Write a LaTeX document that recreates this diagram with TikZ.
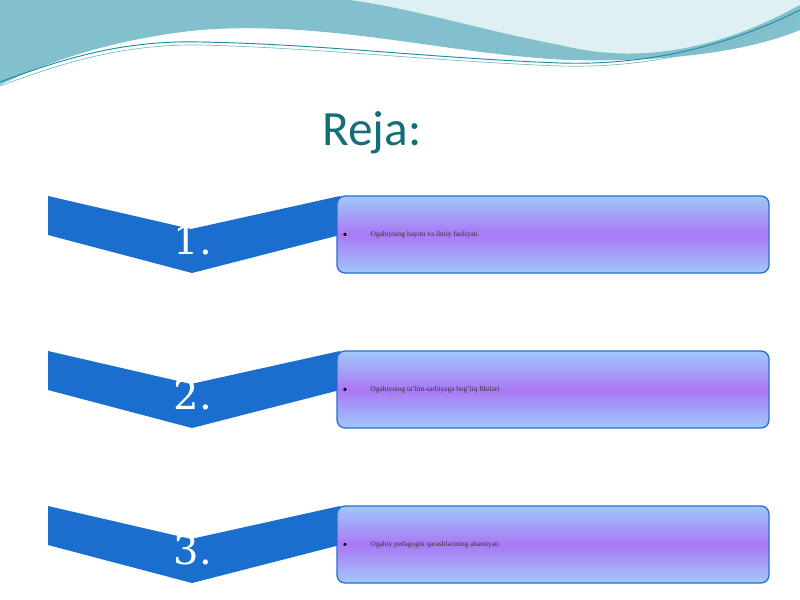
\documentclass[tikz,border=0pt]{standalone}
\usepackage{fontspec}
\setmainfont{Liberation Serif}
\newfontfamily\titlefont{Carlito}
\newfontfamily\numfont{DejaVu Serif}
\definecolor{chev}{RGB}{26,110,205}
\definecolor{boxedge}{RGB}{40,110,210}
\definecolor{lblue}{RGB}{160,200,250}
\definecolor{purp}{RGB}{170,120,245}
\definecolor{teal1}{RGB}{130,192,205}
\definecolor{teal2}{RGB}{222,240,242}
\definecolor{line1}{RGB}{30,140,160}
\definecolor{titlec}{RGB}{20,110,120}
\begin{document}
\begin{tikzpicture}[x=0.75pt,y=-0.75pt,
 chevron/.style={fill=chev,draw=none},
 item/.style={rounded corners=6pt,draw=boxedge,line width=1pt,top color=lblue,bottom color=lblue,middle color=purp,shading angle=0},
 num/.style={text=white,font=\numfont\fontsize{30}{30}\selectfont},
 itxt/.style={font=\fontsize{5.5}{6}\selectfont,text=black!80,anchor=west}]
\useasboundingbox (0,0) rectangle (800,600);
\fill[white] (0,0) rectangle (800,600);
% header
\fill[teal2] (350,0) -- (800,0) -- (800,20) .. controls (700,60) and (620,60) .. (560,45) .. controls (480,30) and (420,10) .. (350,0) -- cycle;
\fill[teal1] (0,0) -- (350,0) .. controls (420,10) and (480,30) .. (560,45) .. controls (620,60) and (700,60) .. (800,5) -- (800,30) .. controls (740,55) and (650,62) .. (570,60) .. controls (450,55) and (330,20) .. (200,30) .. controls (100,40) and (30,70) .. (0,85) -- cycle;
\draw[line1,line width=0.7pt] (0,82) .. controls (60,60) and (120,40) .. (200,42) .. controls (320,44) and (430,58) .. (560,63) .. controls (660,66) and (740,40) .. (800,10);
\draw[line1!60,line width=0.5pt] (0,86) .. controls (60,64) and (120,44) .. (200,45) .. controls (320,48) and (430,61) .. (560,66) .. controls (660,69) and (740,43) .. (800,14);
\node[font=\titlefont\fontsize{37}{37}\selectfont,text=titlec] (title) at (372,133) {Reja:};
\foreach \i/\dy/\t in {1/0/{Ogahiyning hayoti va ilmiy faoliyati},2/155/{Ogahiyning ta'lim-tarbiyaga bog'liq fikrlari},3/310/{Ogahiy pedagogik qarashlarining ahamiyati}}{
  \fill[chevron] (48,196+\dy) -- (191,229+\dy) -- (340,196+\dy) -- (340,235+\dy) -- (192,273+\dy) -- (48,235+\dy) -- cycle;
  \node[num] (n\i) at (193,240+\dy) {\i.};
  \draw[item] (337,196+\dy) rectangle (769,273+\dy);
  \node[font=\fontsize{5}{5}\selectfont] (b\i) at (345,235+\dy) {$\bullet$};
  \node[itxt] (t\i) at (366,235+\dy) {\t};
}
\end{tikzpicture}
\end{document}
